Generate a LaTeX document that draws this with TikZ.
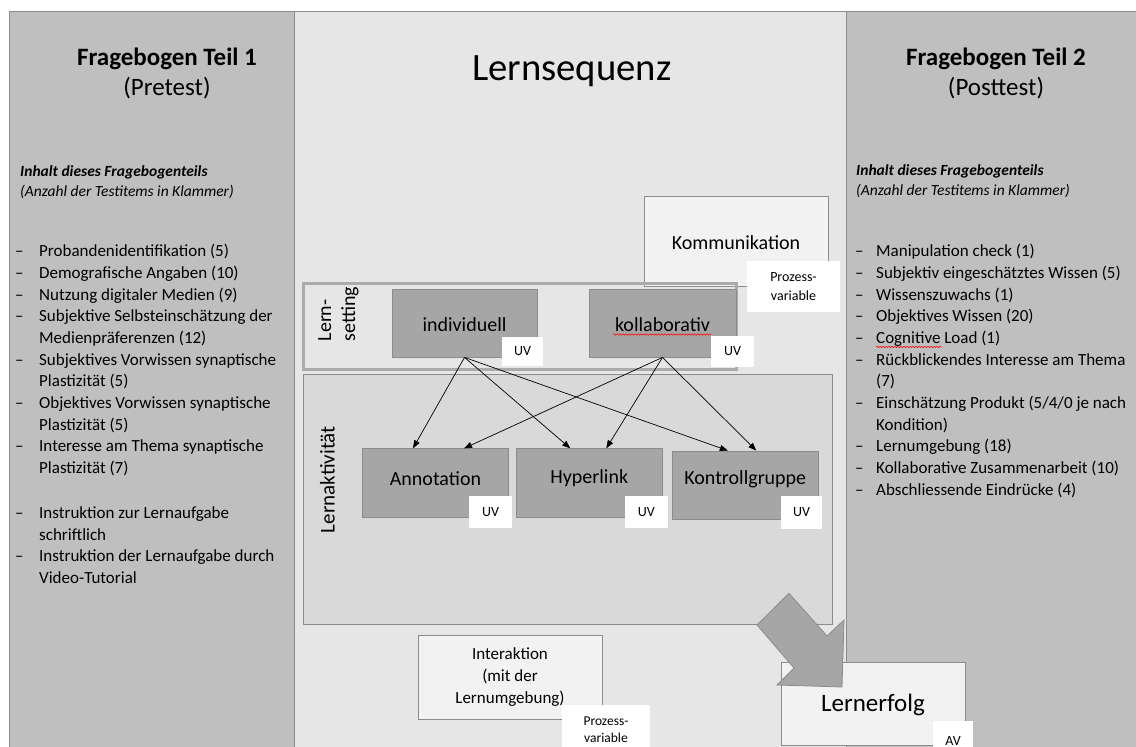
\documentclass[tikz,border=0pt]{standalone}
\usepackage{fontspec}
\setmainfont{Carlito}
\usetikzlibrary{arrows.meta,decorations.pathmorphing}
\definecolor{panelc}{HTML}{BFBFBF}
\definecolor{midc}{HTML}{E6E6E6}
\definecolor{actc}{HTML}{D9D9D9}
\definecolor{darkc}{HTML}{A6A6A6}
\definecolor{edgec}{HTML}{8C8C8C}
\definecolor{framec}{HTML}{ABABAB}
\definecolor{lightc}{HTML}{F2F2F2}
\newcommand\fsz[2]{\fontsize{#1}{#2}\selectfont}
\begin{document}
\begin{tikzpicture}[x=1pt,y=-1pt,
  panelbox/.style={draw=edgec,fill=panelc,line width=0.8pt},
  midbox/.style={draw=edgec,fill=midc,line width=0.8pt},
  darkbox/.style={draw=edgec,fill=darkc,line width=0.8pt,inner sep=0pt,font=\fsz{20}{24}},
  lightbox/.style={draw=edgec,fill=lightc,line width=0.8pt,inner sep=0pt,align=center},
  tagbox/.style={fill=white,inner sep=0pt,align=center,font=\fsz{14}{18}},
  listtext/.style={inner sep=0pt,align=left,font=\fsz{17}{21.7}},
  headtext/.style={inner sep=0pt,align=left,font=\fsz{15.5}{20}},
  link/.style={-{Triangle[length=8pt,width=6pt]},line width=0.7pt,black},
  spell/.style={red,line width=0.5pt,decorate,decoration={snake,amplitude=0.8pt,segment length=3pt}},
  bigarrow/.style={draw=edgec,fill=darkc,line width=0.8pt}
]
\useasboundingbox (0,0) rectangle (1136,747);
\clip (0,0) rectangle (1136,747);
\fill[white] (0,0) rectangle (1136,747);

% panels
\draw[panelbox] (9,11) rectangle (294,760);
\draw[midbox] (294,11) rectangle (846,760);
\draw[panelbox] (846,11) rectangle (1145,760);

% left panel texts
\node[font=\fsz{25}{30}\bfseries,anchor=base,inner sep=0pt] (t1) at (167,65) {Fragebogen Teil 1};
\node[font=\fsz{25}{30},anchor=base,inner sep=0pt] (t1b) at (167,95) {(Pretest)};
\node[headtext,anchor=north west] (h1) at (20,165) {\bfseries\itshape Inhalt dieses Fragebogenteils\\\itshape (Anzahl der Testitems in Klammer)};
\node[listtext,anchor=north west] (l1) at (15,244) {%
\makebox[24pt][l]{–}Probandenidentifikation (5)\\
\makebox[24pt][l]{–}Demografische Angaben (10)\\
\makebox[24pt][l]{–}Nutzung digitaler Medien (9)\\
\makebox[24pt][l]{–}Subjektive Selbsteinschätzung der\\
\hspace*{24pt}Medienpräferenzen (12)\\
\makebox[24pt][l]{–}Subjektives Vorwissen synaptische\\
\hspace*{24pt}Plastizität (5)\\
\makebox[24pt][l]{–}Objektives Vorwissen synaptische\\
\hspace*{24pt}Plastizität (5)\\
\makebox[24pt][l]{–}Interesse am Thema synaptische\\
\hspace*{24pt}Plastizität (7)\\[23pt]
\makebox[24pt][l]{–}Instruktion zur Lernaufgabe\\
\hspace*{24pt}schriftlich\\
\makebox[24pt][l]{–}Instruktion der Lernaufgabe durch\\
\hspace*{24pt}Video-Tutorial};

% right panel texts
\node[font=\fsz{25}{30}\bfseries,anchor=base,inner sep=0pt] (t2) at (996,65) {Fragebogen Teil 2};
\node[font=\fsz{25}{30},anchor=base,inner sep=0pt] (t2b) at (996,95) {(Posttest)};
\node[headtext,anchor=north west] (h2) at (856,164) {\bfseries\itshape Inhalt dieses Fragebogenteils\\\itshape (Anzahl der Testitems in Klammer)};
\node[listtext,anchor=north west] (r1) at (855,244) {%
\makebox[21pt][l]{–}Manipulation check (1)\\
\makebox[21pt][l]{–}Subjektiv eingeschätztes Wissen (5)\\
\makebox[21pt][l]{–}Wissenszuwachs (1)\\
\makebox[21pt][l]{–}Objektives Wissen (20)\\
\makebox[21pt][l]{–}Cognitive Load (1)\\
\makebox[21pt][l]{–}Rückblickendes Interesse am Thema\\
\hspace*{21pt}(7)\\
\makebox[21pt][l]{–}Einschätzung Produkt (5/4/0 je nach\\
\hspace*{21pt}Kondition)\\
\makebox[21pt][l]{–}Lernumgebung (18)\\
\makebox[21pt][l]{–}Kollaborative Zusammenarbeit (10)\\
\makebox[21pt][l]{–}Abschliessende Eindrücke (4)};
\draw[spell] (876,347) -- (942,347);

% middle
\node[font=\fsz{38.7}{44},anchor=base,inner sep=0pt] (seq) at (571.8,80) {Lernsequenz};

% Lernaktivitaet frame
\node[draw=edgec,fill=actc,line width=0.8pt,minimum width=528.4pt,minimum height=249.4pt,inner sep=0pt] (aktframe) at (567.8,499.3) {};
\node[rotate=90,font=\fsz{21}{24},inner sep=0pt] (aktlabel) at (327.5,479.6) {Lernaktivität};

% Kommunikation
\node[lightbox,minimum width=184pt,minimum height=90pt,font=\fsz{20}{24},text height=17.2pt,text depth=0pt] (komm) at (736,241) {Kommunikation};
\node[tagbox,minimum width=93pt,minimum height=51pt,font=\fsz{14}{19.6}] (proz1) at (793.5,286.5) {Prozess-\\variable};

% Lernsetting frame
\node[draw=framec,line width=3pt,minimum width=432.4pt,minimum height=85.7pt,inner sep=0pt] (setframe) at (519.8,326.4) {};
\node[rotate=90,align=left,font=\fsz{20}{24},inner sep=0pt] (setlabel) at (338.5,314) {Lern-\\setting};

\node[darkbox,minimum width=145pt,minimum height=68pt,text height=17.6pt,text depth=0pt] (ind) at (464.5,323) {individuell};
\node[darkbox,minimum width=147pt,minimum height=68pt,text height=17.6pt,text depth=0pt] (kol) at (662.5,323) {kollaborativ};
\draw[spell] (613,334.5) -- (711,334.5);
\node[tagbox,minimum width=41pt,minimum height=29pt] (uv1) at (522.5,351.5) {UV};
\node[tagbox,minimum width=43pt,minimum height=31pt] (uv2) at (732.5,351.5) {UV};

\node[darkbox,minimum width=146pt,minimum height=68.5pt,text height=10pt,text depth=6pt] (ann) at (435.5,483) {Annotation};
\node[darkbox,minimum width=146.5pt,minimum height=68.5pt,text height=9pt,text depth=8pt] (hyp) at (589.3,483) {Hyperlink};
\node[darkbox,minimum width=146.6pt,minimum height=68.6pt,text height=8pt,text depth=10pt] (kon) at (745.3,485.3) {Kontrollgruppe};
\node[tagbox,minimum width=43pt,minimum height=32pt] (uv3) at (490.5,512) {UV};
\node[tagbox,minimum width=42.5pt,minimum height=32pt] (uv4) at (646.3,512) {UV};
\node[tagbox,minimum width=41pt,minimum height=32.6pt] (uv5) at (801.5,512.3) {UV};

\draw[link] (ind.south) -- ([xshift=-22.5pt]ann.north);
\draw[link] (ind.south) -- ([xshift=-19pt]hyp.north);
\draw[link] (ind.south) -- ([xshift=-17.5pt]kon.north);
\draw[link] (kol.south) -- ([xshift=28.5pt]ann.north);
\draw[link] (kol.south) -- ([xshift=17pt]hyp.north);
\draw[link] (kol.south) -- ([xshift=11pt]kon.north);

% bottom
\node[lightbox,minimum width=184pt,minimum height=84pt,font=\fsz{17}{21.7}] (inter) at (510,677) {Interaktion\\(mit der\\Lernumgebung)};
\node[tagbox,minimum width=88pt,minimum height=50pt,font=\fsz{13.5}{17}] (proz2) at (606,730) {Prozess-\\variable};

\node[lightbox,minimum width=184pt,minimum height=83pt,font=\fsz{25}{30},text height=16.4pt,text depth=0pt] (erfolg) at (873,703.5) {Lernerfolg};
\node[tagbox,minimum width=40pt,minimum height=39pt,text height=10pt,text depth=0pt] (av) at (953,740.5) {AV};

\draw[bigarrow] (789,593.3) -- (827,636) -- (844,620) -- (842,687) -- (777,685) -- (794,668) -- (757,625) -- cycle;
\end{tikzpicture}
\end{document}
